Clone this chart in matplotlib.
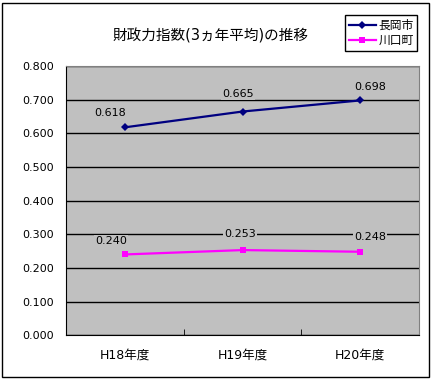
import matplotlib
matplotlib.use("Agg")
import matplotlib.pyplot as plt
from matplotlib.patches import Rectangle

plt.rcParams['font.family'] = ['DejaVu Sans', 'Noto Sans CJK JP']

# DATA
categories = ["H18年度", "H19年度", "H20年度"]
nagaoka = [0.618, 0.665, 0.698]
kawaguchi = [0.240, 0.253, 0.248]
yticks = [0.0, 0.1, 0.2, 0.3, 0.4, 0.5, 0.6, 0.7, 0.8]

fig = plt.figure(figsize=(4.32, 3.80), dpi=100)
fig.patch.set_facecolor('white')
fig.patches.append(Rectangle((0.005, 0.008), 0.988, 0.985, transform=fig.transFigure,
                             fill=False, edgecolor='black', linewidth=1))

ax = fig.add_axes([0.153, 0.118, 0.817, 0.708])
ax.set_facecolor('#c0c0c0')

x = range(len(categories))
ax.plot(x, nagaoka, color='#000080', marker='D', markersize=4.5, markeredgewidth=0,
        linewidth=1.6, label='長岡市', zorder=3)
ax.plot(x, kawaguchi, color='#ff00ff', marker='s', markersize=5, markeredgewidth=0,
        linewidth=1.6, label='川口町', zorder=3)

# data labels
offsets_n = [(-11, 7), (-3, 9), (7, 6)]
offsets_k = [(-10, 6), (-2, 8), (7, 7)]
for i, v in enumerate(nagaoka):
    ax.annotate(f"{v:.3f}", (i, v), xytext=offsets_n[i], textcoords='offset points',
                ha='center', va='bottom', fontsize=8,
                bbox=dict(boxstyle='square,pad=0.1', fc='#c0c0c0', ec='none'), zorder=4)
for i, v in enumerate(kawaguchi):
    ax.annotate(f"{v:.3f}", (i, v), xytext=offsets_k[i], textcoords='offset points',
                ha='center', va='bottom', fontsize=8,
                bbox=dict(boxstyle='square,pad=0.1', fc='#c0c0c0', ec='none'), zorder=4)

ax.set_xlim(-0.5, 2.5)
ax.set_ylim(0, 0.8)
ax.set_yticks(yticks)
ax.set_yticklabels([f"{t:.3f}" for t in yticks], fontsize=8)
ax.set_xticks(list(x))
ax.set_xticklabels(categories, fontsize=9)
ax.set_xticks([0.5, 1.5], minor=True)
ax.tick_params(axis='x', which='major', length=0, pad=10)
ax.tick_params(axis='x', which='minor', length=4, direction='in', color='black')
ax.tick_params(axis='y', length=0, pad=9)
ax.grid(axis='y', color='black', linewidth=1)
ax.set_axisbelow(True)

for s in ['top', 'right']:
    ax.spines[s].set_color('#808080')
for s in ['left', 'bottom']:
    ax.spines[s].set_color('black')

fig.text(0.487, 0.905, "財政力指数(3ヵ年平均)の推移", ha='center', va='center', fontsize=10.5)

leg = fig.legend(loc='upper left', bbox_to_anchor=(0.799, 0.96), fontsize=8.5,
                 frameon=True, fancybox=False, edgecolor='black', framealpha=1,
                 handlelength=2.3, borderpad=0.3, labelspacing=0.2, handletextpad=0.2,
                 borderaxespad=0)
leg.get_frame().set_linewidth(1)

fig.savefig("out.png", dpi=100)
